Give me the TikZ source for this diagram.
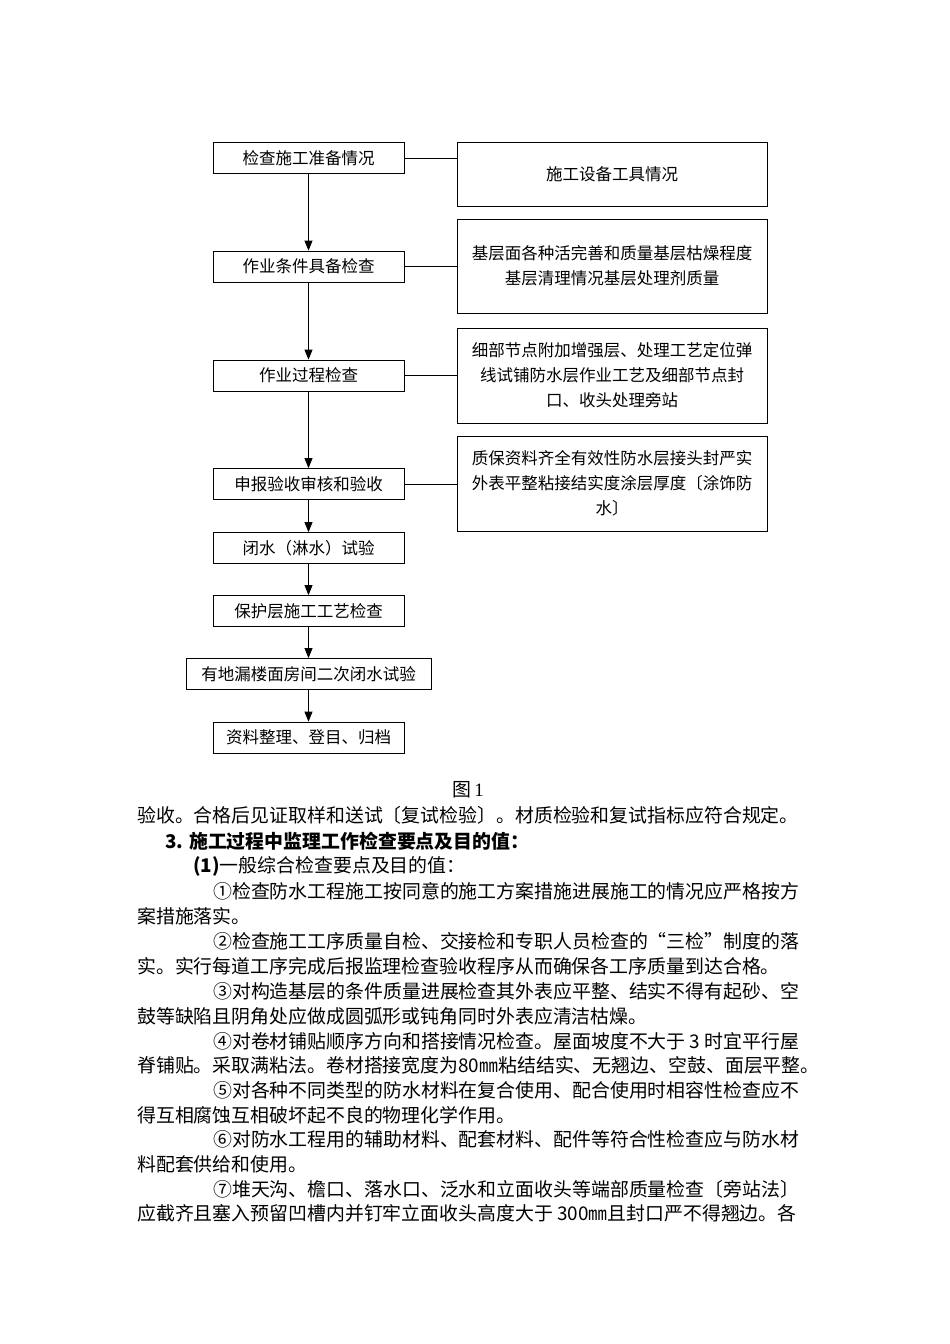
\documentclass[tikz,border=0pt]{standalone}
\usepackage{fontspec}
\setmainfont{Liberation Serif}
\newfontfamily\cjk{Noto Sans CJK SC}
\usetikzlibrary{arrows.meta, positioning}

\tikzset{
    % Flow chart
    flowBox/.style={rectangle, draw=black, line width=0.8pt, minimum width=191pt, minimum height=31pt,
        inner sep=0pt, font=\cjk\fontsize{16.5}{25}\selectfont},
    noteBox/.style={rectangle, draw=black, line width=0.8pt, minimum width=310pt,
        inner sep=0pt, align=center, font=\cjk\fontsize{16.5}{25}\selectfont},
    arrowFlow/.style={-{Triangle[width=8pt,length=10pt]}, line width=0.8pt},
    linkLine/.style={line width=0.8pt},
    % Page text
    bodyLine/.style={anchor=west, inner sep=0pt, font=\cjk\fontsize{18.9}{24}\selectfont},
    headLine/.style={anchor=west, inner sep=0pt, font=\cjk\bfseries\fontsize{18.9}{24}\selectfont}
}

\begin{document}
\begin{tikzpicture}[x=1pt, y=-1pt]
        \useasboundingbox[fill=white] (0,0) rectangle (950,1344);

        % Main steps
        \node[flowBox] (checkPrep) at (308.5, 158) {检查施工准备情况};
        \node[flowBox] (checkCond) at (308.5, 266.5) {作业条件具备检查};
        \node[flowBox] (checkProc) at (308.5, 375.5) {作业过程检查};
        \node[flowBox] (checkAccept) at (308.5, 484) {申报验收审核和验收};
        \node[flowBox] (waterTest) at (308.5, 548) {闭水（淋水）试验};
        \node[flowBox] (protectLayer) at (308.5, 611) {保护层施工工艺检查};
        \node[flowBox, minimum width=245pt] (secondTest) at (308.5, 674) {有地漏楼面房间二次闭水试验};
        \node[flowBox] (archive) at (308.5, 737.5) {资料整理、登目、归档};

        % Notes on the right
        \node[noteBox, minimum height=64pt] (noteTools) at (612, 174) {施工设备工具情况};
        \node[noteBox, minimum height=94pt] (noteBase) at (612, 266) {基层面各种活完善和质量基层枯燥程度\\基层清理情况基层处理剂质量};
        \node[noteBox, minimum height=95pt] (noteDetail) at (612, 375.5) {细部节点附加增强层、处理工艺定位弹\\线试铺防水层作业工艺及细部节点封\\口、收头处理旁站};
        \node[noteBox, minimum height=95pt] (noteData) at (612, 483.5) {质保资料齐全有效性防水层接头封严实\\外表平整粘接结实度涂层厚度〔涂饰防\\水〕};

        % Arrows
        \draw[arrowFlow] (checkPrep) -- (checkCond);
        \draw[arrowFlow] (checkCond) -- (checkProc);
        \draw[arrowFlow] (checkProc) -- (checkAccept);
        \draw[arrowFlow] (checkAccept) -- (waterTest);
        \draw[arrowFlow] (waterTest) -- (protectLayer);
        \draw[arrowFlow] (protectLayer) -- (secondTest);
        \draw[arrowFlow] (secondTest) -- (archive);

        % Links
        \draw[linkLine] (checkPrep.east) -- (checkPrep.east -| noteTools.west);
        \draw[linkLine] (checkCond.east) -- (checkCond.east -| noteBase.west);
        \draw[linkLine] (checkProc.east) -- (checkProc.east -| noteDetail.west);
        \draw[linkLine] (checkAccept.east) -- (checkAccept.east -| noteData.west);

        % Caption and text
        \node[inner sep=0pt, font=\fontsize{18.9}{24}\selectfont] (figCap) at (468, 790) {{\cjk 图}\,1};
        \node[bodyLine] (line1) at (137, 815) {验收。合格后见证取样和送试〔复试检验〕。材质检验和复试指标应符合规定。};
        \node[headLine] (line2) at (165, 841) {3. 施工过程中监理工作检查要点及目的值：};
        \node[bodyLine] (line3) at (193, 866) {{\bfseries (1)}一般综合检查要点及目的值：};
        \node[bodyLine] (line4) at (213, 891) {①检查防水工程施工按同意的施工方案措施进展施工的情况应严格按方};
        \node[bodyLine] (line5) at (137, 916) {案措施落实。};
        \node[bodyLine] (line6) at (213, 941) {②检查施工工序质量自检、交接检和专职人员检查的“三检”制度的落};
        \node[bodyLine] (line7) at (137, 966) {实。实行每道工序完成后报监理检查验收程序从而确保各工序质量到达合格。};
        \node[bodyLine] (line8) at (213, 991) {③对构造基层的条件质量进展检查其外表应平整、结实不得有起砂、空};
        \node[bodyLine] (line9) at (137, 1016) {鼓等缺陷且阴角处应做成圆弧形或钝角同时外表应清洁枯燥。};
        \node[bodyLine] (line10) at (213, 1041) {④对卷材铺贴顺序方向和搭接情况检查。屋面坡度不大于 3 时宜平行屋};
        \node[bodyLine] (line11) at (137, 1065) {脊铺贴。采取满粘法。卷材搭接宽度为80㎜粘结结实、无翘边、空鼓、面层平整。};
        \node[bodyLine] (line12) at (213, 1090) {⑤对各种不同类型的防水材料在复合使用、配合使用时相容性检查应不};
        \node[bodyLine] (line13) at (137, 1115) {得互相腐蚀互相破坏起不良的物理化学作用。};
        \node[bodyLine] (line14) at (213, 1139) {⑥对防水工程用的辅助材料、配套材料、配件等符合性检查应与防水材};
        \node[bodyLine] (line15) at (137, 1164) {料配套供给和使用。};
        \node[bodyLine] (line16) at (213, 1189) {⑦堆天沟、檐口、落水口、泛水和立面收头等端部质量检查〔旁站法〕};
        \node[bodyLine] (line17) at (137, 1213) {应截齐且塞入预留凹槽内并钉牢立面收头高度大于 300㎜且封口严不得翘边。各};
\end{tikzpicture}
\end{document}
